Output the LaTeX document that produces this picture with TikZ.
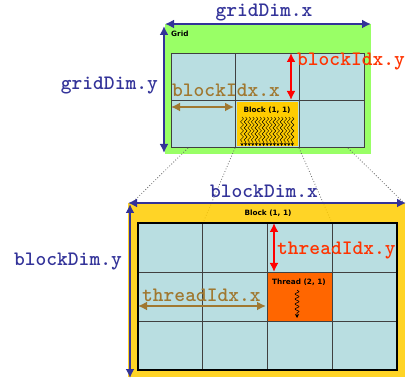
\documentclass[tikz,border=0pt]{standalone}
\usepackage{fontspec}
\newfontfamily\boxfont{DejaVu Sans}
\usetikzlibrary{arrows.meta,decorations.pathmorphing}
\definecolor{dimblue}{RGB}{51,51,153}
\definecolor{idxbrown}{RGB}{160,120,48}
\definecolor{idxred}{RGB}{255,51,0}
\definecolor{gridgreen}{RGB}{153,255,102}
\definecolor{cellblue}{RGB}{185,222,225}
\definecolor{blockyellow}{RGB}{255,204,0}
\definecolor{threadorange}{RGB}{255,102,0}
\tikzset{
	dimarrow/.style={line width=2.8pt,{Latex[length=9pt,width=9pt]}-{Latex[length=9pt,width=9pt]}},
	codelabel/.style={inner sep=0pt,font=\ttfamily\bfseries\fontsize{20.5}{20}\selectfont},
	boxlabel/.style={inner sep=0pt,font=\boxfont\bfseries\fontsize{7.3}{8}\selectfont},
	cell/.style={draw=black!75,line width=0.6pt,fill=cellblue},
	perspective/.style={gray!80!black,dotted,line width=0.8pt},
	wave/.style={decorate,decoration={snake,amplitude=1.5pt,segment length=6pt,post length=2pt},
		-{Stealth[length=3pt,width=3.2pt]},line width=0.45pt},
	bigwave/.style={decorate,decoration={snake,amplitude=2pt,segment length=5pt,post length=3pt},
		-{Stealth[length=4pt,width=4pt]},line width=0.6pt}
}
\begin{document}
\begin{tikzpicture}[x=1pt,y=-1pt]
	\useasboundingbox (0,0) rectangle (407,379);
	% grid of blocks
	\fill[gridgreen] (165,24) rectangle (371,154);
	\node[boxlabel,anchor=west] (gridname) at (171,34) {Grid};
	\foreach \i in {0,1,2}{
		\foreach \j in {0,1}{
			\draw[cell] (171+\i*64.33,53+\j*47) rectangle ++(64.33,47);
		}
	}
	\fill[blockyellow] (237,102) rectangle (298,146);
	\node[boxlabel] (blockname) at (267,110) {Block (1, 1)};
	\foreach \x in {0,...,14}
		\draw[wave] (242+\x*3.6,117) -- (242+\x*3.6,146);
	% corners that the dotted lines join
	\coordinate (g1) at (188,148);
	\coordinate (g2) at (235,148);
	\coordinate (g3) at (299,148);
	\coordinate (g4) at (348,148);
	\coordinate (b1) at (133,202);
	\coordinate (b2) at (203,223);
	\coordinate (b3) at (332,223);
	\coordinate (b4) at (403,202);
	\draw[perspective] (g1) -- (b1);
	\draw[perspective] (g2) -- (b2);
	\draw[perspective] (g3) -- (b3);
	\draw[perspective] (g4) -- (b4);
	% one block of threads
	\fill[blockyellow,fill opacity=0.85] (128,203) rectangle (405,377);
	\node[boxlabel] (bigname) at (268,213) {Block (1, 1)};
	\foreach \i in {0,...,3}{
		\foreach \j in {0,1,2}{
			\draw[cell] (138+\i*64.75,223+\j*49) rectangle ++(64.75,49);
		}
	}
	\draw[cell,fill=threadorange] (267.5,272) rectangle ++(64.75,49);
	\draw[black,line width=1.4pt] (138,223) rectangle (397,370);
	\node[boxlabel] (threadname) at (299,282) {Thread (2, 1)};
	\draw[bigwave] (297,290) -- (297,318);
	% dimensions
	\coordinate (gxl) at (165,24);
	\coordinate (gxr) at (371,24);
	\coordinate (gyt) at (164,26);
	\coordinate (gyb) at (164,153);
	\draw[dimarrow,dimblue] (gxl) -- (gxr);
	\draw[dimarrow,dimblue] (gyt) -- (gyb);
	\node[codelabel,dimblue] (griddimx) at (264,13) {gridDim.x};
	\node[codelabel,dimblue,anchor=east] (griddimy) at (158,86) {gridDim.y};
	\coordinate (bxl) at (128,203);
	\coordinate (bxr) at (406,203);
	\coordinate (byt) at (130,204);
	\coordinate (byb) at (130,378);
	\draw[dimarrow,dimblue] (bxl) -- (bxr);
	\draw[dimarrow,dimblue] (byt) -- (byb);
	\node[codelabel,dimblue] (blockdimx) at (264,191) {blockDim.x};
	\node[codelabel,dimblue,anchor=east] (blockdimy) at (122,262) {blockDim.y};
	% indices
	\coordinate (iyt) at (291,53);
	\coordinate (iyb) at (291,100);
	\coordinate (ixl) at (171,107);
	\coordinate (ixr) at (234,107);
	\draw[dimarrow,red] (iyt) -- (iyb);
	\draw[dimarrow,idxbrown] (ixl) -- (ixr);
	\node[codelabel,idxred,anchor=west] (blockidxy) at (297,62) {blockIdx.y};
	\node[codelabel,idxbrown,anchor=west] (blockidxx) at (172,90) {blockIdx.x};
	\coordinate (tyt) at (274,223);
	\coordinate (tyb) at (274,272);
	\coordinate (txl) at (138,306);
	\coordinate (txr) at (266,306);
	\draw[dimarrow,red] (tyt) -- (tyb);
	\draw[dimarrow,idxbrown] (txl) -- (txr);
	\node[codelabel,idxred,anchor=west] (threadidxy) at (277,251) {threadIdx.y};
	\node[codelabel,idxbrown,anchor=west] (threadidxx) at (142,295) {threadIdx.x};
\end{tikzpicture}
\end{document}
